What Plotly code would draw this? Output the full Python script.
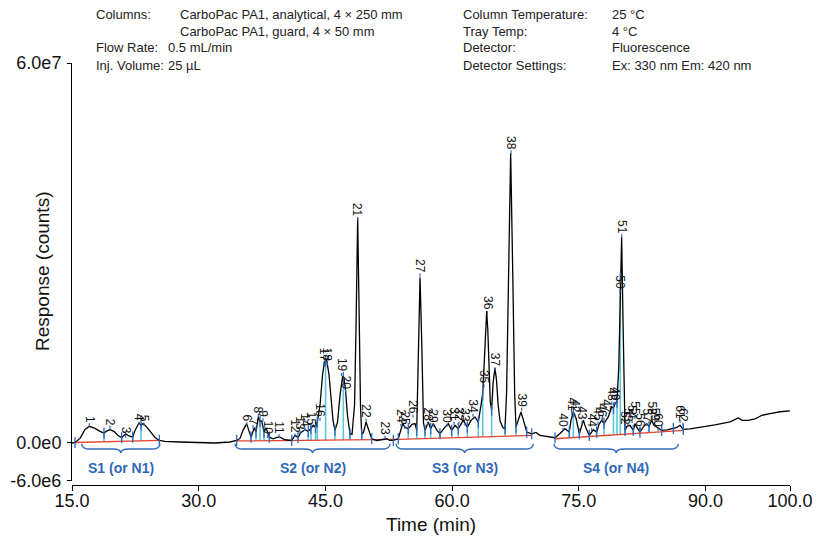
import numpy as np
import plotly.graph_objects as go

# ---------------- data (response in millions of counts) ----------------
time_min = [
    15.00, 15.36, 15.95, 16.54, 17.05, 17.72, 18.31, 18.79, 19.14, 19.50,
    19.97, 20.45, 20.88, 21.36, 21.75, 22.19, 22.46, 22.93, 23.17, 23.44,
    23.88, 24.35, 24.83, 25.34, 26.01, 27.79, 30.15, 31.93, 33.70, 34.50,
    34.89, 35.24, 35.68, 35.95, 36.19, 36.58, 36.78, 37.06, 37.26, 37.46,
    37.73, 37.97, 38.36, 38.83, 39.27, 39.62, 40.22, 41.01, 41.40, 41.76,
    42.11, 42.58, 42.97, 43.29, 43.57, 43.83, 44.04, 44.36, 44.66, 44.89,
    45.15, 45.43, 45.66, 45.90, 46.13, 46.43, 46.73, 47.04, 47.20, 47.38,
    47.61, 47.91, 48.15, 48.45, 48.62, 48.82, 49.02, 49.15, 49.30, 49.51,
    49.81, 50.10, 50.48, 51.07, 51.58, 52.26, 52.65, 53.04, 53.63,
    54.15, 54.42, 54.81, 55.25, 55.61, 55.81, 55.92, 56.00, 56.20, 56.40,
    56.50, 56.61, 56.79, 57.18, 57.46, 57.77, 58.21, 58.56, 59.04, 59.55,
    59.95, 60.34, 60.73, 61.32, 61.80, 62.24, 62.71, 63.10, 63.42, 63.62,
    63.83, 63.97, 64.09, 64.22, 64.38, 64.52, 64.68, 64.85, 65.07, 65.25,
    65.45, 65.67, 66.02, 66.26, 66.45, 66.65, 66.93, 67.20, 67.40, 67.56,
    67.86, 68.15, 68.45, 68.83, 69.42, 69.93, 70.40, 71.11, 72.18,
    72.77, 73.36, 73.87, 74.07, 74.35, 74.67, 75.06, 75.53, 75.85, 76.24,
    76.72, 77.11, 77.39, 77.71, 77.98, 78.49, 78.89, 79.10, 79.28, 79.52,
    79.73, 79.91, 80.07, 80.22, 80.35, 80.47, 80.70, 81.06, 81.45, 81.65,
    81.89, 82.24, 82.60, 83.03, 83.31, 83.63, 83.90, 84.22, 84.81, 85.44,
    86.19, 86.62, 86.98, 87.37, 88.16, 89.35, 91.12, 92.90, 93.49, 93.88,
    94.32, 95.06, 95.86, 96.69, 97.64, 98.82, 100.00,
]
response_m = [
    0.00, 0.08, 0.72, 2.15, 2.63, 2.31, 1.83, 1.56, 1.91, 2.10,
    1.83, 1.19, 0.83, 1.46, 1.11, 0.92, 1.99, 3.15, 2.86, 3.06,
    2.47, 1.67, 0.88, 0.40, 0.24, 0.16, 0.08, 0.00, 0.16, 0.40,
    0.72, 1.99, 3.06, 1.99, 0.92, 2.42, 1.72, 4.11, 3.42, 3.47,
    1.72, 2.42, 0.92, 0.67, 0.88, 0.92, 0.51, 0.40, 1.19, 0.88,
    1.67, 2.10, 1.83, 2.31, 2.79, 2.47, 3.31, 5.97, 10.74, 12.81,
    13.13, 10.74, 6.76, 3.58, 1.99, 3.26, 7.56, 10.47, 10.27, 8.36,
    4.38, 1.46, 1.35, 6.00, 18.00, 35.52, 18.00, 6.00, 1.35, 1.67,
    3.31, 1.99, 0.67, 0.40, 0.56, 0.67, 0.40, 0.40, 0.67,
    3.06, 2.47, 2.26, 2.94, 3.06, 1.99, 8.00, 16.00, 26.13, 16.00,
    8.00, 3.20, 1.99, 3.31, 2.26, 3.06, 1.99, 1.46, 2.31, 3.06,
    1.99, 2.79, 2.26, 3.58, 2.51, 3.58, 4.11, 3.31, 5.97, 7.83,
    13.50, 19.00, 20.82, 18.00, 11.00, 6.50, 5.17, 9.50, 11.81, 10.00,
    6.00, 3.50, 2.40, 2.26, 8.00, 25.00, 45.76, 25.00, 8.00, 2.51,
    3.90, 4.90, 3.58, 1.72, 1.46, 1.67, 1.19, 1.03, 0.83,
    1.51, 2.26, 1.72, 3.58, 4.90, 3.90, 1.46, 3.58, 2.31, 1.19,
    2.10, 1.72, 2.94, 3.58, 3.10, 4.11, 5.70, 5.49, 6.24, 6.45,
    12.00, 26.00, 32.50, 20.00, 6.00, 1.99, 2.63, 2.79, 1.99, 3.06,
    2.47, 1.72, 2.47, 3.06, 2.63, 3.58, 2.79, 2.51, 1.99, 2.07,
    2.26, 2.47, 2.79, 2.15, 2.23, 2.47, 2.86, 3.34, 3.74, 3.95,
    3.58, 3.58, 3.82, 4.38, 4.65, 4.93, 5.06,
]

peak_labels = [str(i) for i in range(1, 63)]
label_time = [
    17.05, 19.50, 21.36, 22.93, 23.52, 35.68, 36.43, 37.06, 37.61, 38.17,
    39.51, 41.40, 41.99, 42.58, 43.24, 44.36, 44.83, 45.22, 46.90, 47.38,
    48.82, 49.81, 52.05, 53.95, 54.42, 55.37, 56.20, 57.11, 57.74, 59.39,
    60.22, 60.81, 61.52, 62.47, 63.78, 64.17, 65.08, 66.97, 68.24, 73.13,
    74.16, 74.55, 75.38, 76.52, 77.27, 77.74, 78.22, 78.89, 79.28, 79.87,
    80.08, 80.47, 80.82, 81.30, 81.65, 82.24, 83.04, 83.63, 83.96, 84.37,
    86.98, 87.33,
]
label_resp_m = [
    3.74, 3.34, 1.99, 3.98, 3.82, 3.90, 3.42, 5.25, 4.54, 2.47,
    2.47, 2.63, 3.10, 3.58, 3.90, 5.17, 13.93, 13.93, 12.25, 9.63,
    36.85, 5.01, 2.31, 4.22, 3.90, 5.65, 27.93, 4.54, 4.22, 4.22,
    4.54, 4.54, 4.38, 5.81, 10.42, 22.04, 13.13, 47.35, 6.76, 3.58,
    6.13, 5.81, 4.70, 3.58, 4.54, 5.17, 5.81, 7.72, 7.72, 25.39,
    34.14, 3.90, 4.38, 4.85, 5.49, 3.58, 4.38, 5.49, 4.54, 3.58,
    4.85, 4.38,
]

boundary_time = [
    15.36, 18.79, 20.88, 22.19, 23.17, 25.34,
    34.50, 36.19, 36.78, 37.26, 37.73, 38.36, 41.01, 41.76, 42.97, 43.29,
    43.83, 44.04, 45.02, 46.13, 47.12, 47.91, 49.30, 50.48, 53.04,
    53.63, 54.81, 55.81, 56.79, 57.46, 58.56, 59.95, 60.73, 61.80, 63.10,
    63.62, 64.68, 66.26, 67.56, 68.83, 69.42,
    72.18, 73.87, 74.35, 75.06, 76.24, 77.11, 77.98, 79.10, 79.52, 79.91,
    80.47, 81.45, 82.24, 83.31, 84.81, 86.19, 87.37,
]
boundary_resp_m = [
    0.08, 1.56, 0.83, 0.92, 2.86, 0.40,
    0.40, 0.92, 1.72, 3.42, 1.72, 0.92, 0.40, 0.88, 1.83, 2.31,
    2.47, 3.31, 12.97, 1.99, 10.37, 1.46, 1.35, 0.67, 0.40,
    0.67, 2.26, 1.99, 1.99, 2.26, 1.46, 1.99, 2.26, 2.51, 3.31,
    7.83, 5.17, 2.26, 2.51, 1.72, 1.46,
    0.83, 1.72, 4.90, 1.46, 1.19, 1.72, 3.10, 5.49, 6.45, 26.00,
    1.99, 1.99, 1.72, 2.63, 1.99, 2.26, 2.15,
]

# integration baselines per segment
seg_start_t = [15.36, 34.50, 53.63, 72.18]
seg_start_v = [0.08, 0.32, 0.56, 0.67]
seg_end_t = [25.34, 53.63, 69.42, 87.37]
seg_end_v = [0.40, 0.56, 1.20, 1.99]

# fraction groups (braces)
group_names = ["S1 (or N1)", "S2 (or N2)", "S3 (or N3)", "S4 (or N4)"]
group_start = [16.15, 34.30, 53.36, 72.06]
group_end = [25.42, 52.65, 69.61, 86.78]

x_tickvals = [15, 30, 45, 60, 75, 90, 100]
x_ticktext = ["15.0", "30.0", "45.0", "60.0", "75.0", "90.0", "100.0"]
y_tickvals = [-6e6, 0, 6e7]
y_ticktext = ["-6.0e6", "0.0e0", "6.0e7"]

header_left = [("Columns:", "CarboPac PA1, analytical, 4 × 250 mm"),
               ("", "CarboPac PA1, guard, 4 × 50 mm"),
               ("Flow Rate:", "0.5 mL/min"),
               ("Inj. Volume:", "25 µL")]
header_right = [("Column Temperature:", "25 °C"),
                ("Tray Temp:", "4 °C"),
                ("Detector:", "Fluorescence"),
                ("Detector Settings:", "Ex: 330 nm Em: 420 nm")]

# ---------------- styling ----------------
FONT = "Liberation Sans, Arial, Helvetica, sans-serif"
BLUE = "#2f68b8"
CYAN = "#5cc6dc"
RED = "#e8412c"
M = 1e6


def baseline_at(t):
    for t0, v0, t1, v1 in zip(seg_start_t, seg_start_v, seg_end_t, seg_end_v):
        if t0 <= t <= t1:
            return v0 + (v1 - v0) * (t - t0) / (t1 - t0)
    return 0.0


fig = go.Figure()

# cyan drop lines
cx, cy = [], []
for t, v in zip(boundary_time, boundary_resp_m):
    b = baseline_at(t)
    if v - b > 0.25:
        cx += [t, t, None]
        cy += [b * M, v * M, None]
fig.add_trace(go.Scatter(x=cx, y=cy, mode="lines", line=dict(color=CYAN, width=1.6),
                         hoverinfo="skip", showlegend=False))

# red baselines
rx, ry = [], []
for t0, v0, t1, v1 in zip(seg_start_t, seg_start_v, seg_end_t, seg_end_v):
    rx += [t0, t1, None]
    ry += [v0 * M, v1 * M, None]
fig.add_trace(go.Scatter(x=rx, y=ry, mode="lines", line=dict(color=RED, width=1.3),
                         hoverinfo="skip", showlegend=False))

# chromatogram
fig.add_trace(go.Scatter(x=time_min, y=np.array(response_m) * M, mode="lines",
                         line=dict(color="black", width=1.3), showlegend=False))

# boundary tick markers
fig.add_trace(go.Scatter(x=boundary_time, y=np.array(boundary_resp_m) * M, mode="markers",
                         marker=dict(symbol="line-ns", size=8,
                                     line=dict(color=BLUE, width=1.3)),
                         hoverinfo="skip", showlegend=False))

annotations = []
for lab, t, v in zip(peak_labels, label_time, label_resp_m):
    h = 6.6 * len(lab)
    off = h / 2 + 4
    annotations.append(dict(x=t, y=v * M, xref="x", yref="y", text=lab, textangle=90,
                            font=dict(family=FONT, size=12, color="#111"),
                            showarrow=True, arrowhead=0, arrowwidth=1.2, arrowcolor=BLUE,
                            ax=0, ay=-off, yshift=-off, standoff=0, borderpad=0))

# braces
shapes = []
y_end, y_mid, y_tip = -0.1 * M, -0.95 * M, -1.6 * M
for name, t0, t1 in zip(group_names, group_start, group_end):
    tm = (t0 + t1) / 2
    d = 1.0
    path = (f"M {t0},{y_end} Q {t0},{y_mid} {t0 + d},{y_mid} L {tm - d},{y_mid} "
            f"Q {tm},{y_mid} {tm},{y_tip} Q {tm},{y_mid} {tm + d},{y_mid} "
            f"L {t1 - d},{y_mid} Q {t1},{y_mid} {t1},{y_end}")
    shapes.append(dict(type="path", xref="x", yref="y", path=path,
                       line=dict(color=BLUE, width=1.4)))
    annotations.append(dict(x=tm, y=-4.0 * M, xref="x", yref="y", text=f"<b>{name}</b>",
                            showarrow=False, font=dict(family=FONT, size=14, color=BLUE)))

# layout geometry (page body margin removed in post_script)
W, H = 818, 542
L, T = 72, 63
pw, ph = 718, 422
R, B = W - L - pw, H - T - ph


def px(xs):
    return (xs - L) / pw


def py(ys):
    return (H - B - ys) / ph


rows_y = [15, 31.5, 48, 65]
HF = dict(family=FONT, size=13, color="#222")
for (lab, val), yy in zip(header_left, rows_y):
    if lab:
        annotations.append(dict(x=px(94), y=py(yy), xref="paper", yref="paper", text=lab,
                                xanchor="left", yanchor="middle", showarrow=False, font=HF))
    vx = 178 if lab in ("Columns:", "") else 166
    annotations.append(dict(x=px(vx), y=py(yy), xref="paper", yref="paper", text=val,
                            xanchor="left", yanchor="middle", showarrow=False, font=HF))
for (lab, val), yy in zip(header_right, rows_y):
    annotations.append(dict(x=px(461), y=py(yy), xref="paper", yref="paper", text=lab,
                            xanchor="left", yanchor="middle", showarrow=False, font=HF))
    annotations.append(dict(x=px(610), y=py(yy), xref="paper", yref="paper", text=val,
                            xanchor="left", yanchor="middle", showarrow=False, font=HF))

annotations.append(dict(x=px(431), y=py(524), xref="paper", yref="paper", text="Time (min)",
                        showarrow=False, xanchor="center", yanchor="middle",
                        font=dict(family=FONT, size=19, color="#111")))
annotations.append(dict(x=px(42), y=py(272), xref="paper", yref="paper",
                        text="Response (counts)", textangle=-90, showarrow=False,
                        xanchor="center", yanchor="middle",
                        font=dict(family=FONT, size=19, color="#111")))

fig.update_layout(
    width=W, height=H,
    margin=dict(l=L, r=R, t=T, b=B, autoexpand=False),
    paper_bgcolor="white", plot_bgcolor="white",
    font=dict(family=FONT, color="#111"),
    annotations=annotations, shapes=shapes,
    xaxis=dict(range=[15, 100], tickvals=x_tickvals, ticktext=x_ticktext,
               showline=True, linecolor="black", linewidth=1, ticks="outside",
               ticklen=5, tickcolor="black", showgrid=False, zeroline=False,
               tickfont=dict(size=18, family=FONT, color="#111"),
               ticklabelstandoff=-6,
               anchor="free", position=0, automargin=False),
    yaxis=dict(range=[-6e6, 6e7], domain=[0.0095, 1], tickvals=y_tickvals,
               ticktext=y_ticktext, showline=True, linecolor="black", linewidth=1,
               ticks="outside", ticklen=4, tickcolor="black", showgrid=False,
               zeroline=False, tickfont=dict(size=18, family=FONT, color="#111"),
               ticklabelstandoff=2, automargin=False),
)

fig.write_html("out.html",
               config={"displayModeBar": False},
               post_script="document.body.style.margin='0px';"
                           "document.body.style.overflow='hidden';")
